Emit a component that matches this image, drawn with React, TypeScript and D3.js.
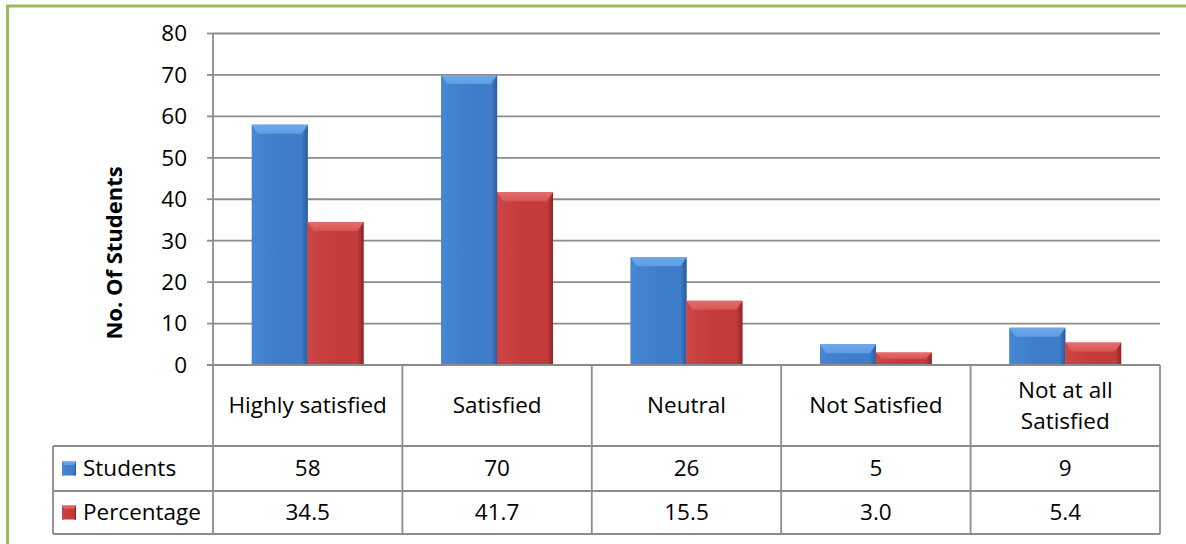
import React from "react";
import * as d3 from "d3";

const categories = ["Highly satisfied", "Satisfied", "Neutral", "Not Satisfied", "Not at all Satisfied"];
const categoryLines = [["Highly satisfied"], ["Satisfied"], ["Neutral"], ["Not Satisfied"], ["Not at all", "Satisfied"]];
const students = [58, 70, 26, 5, 9];
const percentage = [34.5, 41.7, 15.5, 3.0, 5.4];
const percentageLabels = ["34.5", "41.7", "15.5", "3.0", "5.4"];
const yTicks = [0, 10, 20, 30, 40, 50, 60, 70, 80];
const seriesNames = ["Students", "Percentage"];

const W = 1186;
const H = 544;
const FONT = "'Open Sans', Lato, sans-serif";
const FS = 22.5;
const GRID = "#8c8c8c";

const palettes = {
  blue: { main: "#3d7dca", light: "#5f9de2", top: "#6eaaea", dark: "#2a5c9c", left: "#4686d2" },
  red: { main: "#c53b3b", light: "#d95454", top: "#e36e6e", dark: "#8e2727", left: "#cc4444" },
};

function BevelBar({ x, y, w, h, pal, id }) {
  if (h <= 0) return null;
  const b = Math.min(9, h / 2, w / 4);
  const s = Math.min(6, w / 6);
  return (
    <g>
      <rect x={x} y={y} width={w} height={h} fill={`url(#${id}-body)`} />
      <polygon points={`${x},${y} ${x + s},${y + b} ${x + s},${y + h} ${x},${y + h}`} fill={pal.left} />
      <polygon points={`${x + w},${y} ${x + w - s},${y + b} ${x + w - s},${y + h} ${x + w},${y + h}`} fill={`url(#${id}-side)`} />
      <polygon points={`${x},${y} ${x + w},${y} ${x + w - s},${y + b} ${x + s},${y + b}`} fill={`url(#${id}-top)`} />
    </g>
  );
}

function Gradients({ id, pal }) {
  return (
    <>
      <linearGradient id={`${id}-body`} x1="0" x2="1" y1="0" y2="0">
        <stop offset="0" stopColor={pal.left} />
        <stop offset="0.5" stopColor={pal.main} />
        <stop offset="1" stopColor={pal.main} />
      </linearGradient>
      <linearGradient id={`${id}-side`} x1="0" x2="1" y1="0" y2="0">
        <stop offset="0" stopColor={pal.main} />
        <stop offset="1" stopColor={pal.dark} />
      </linearGradient>
      <linearGradient id={`${id}-top`} x1="0" x2="0" y1="0" y2="1">
        <stop offset="0" stopColor={pal.top} />
        <stop offset="1" stopColor={pal.light} />
      </linearGradient>
    </>
  );
}

export default function App() {
  const left = 213;
  const right = 1160;
  const top = 33.5;
  const base = 365;
  const headerBottom = 446;
  const row1Bottom = 491;
  const row2Bottom = 534;
  const legendLeft = 53;

  const y = d3.scaleLinear().domain([0, 80]).range([base, top]);
  const x = d3.scaleBand().domain(categories).range([left, right]).paddingInner(0).paddingOuter(0);
  const bw = x.bandwidth();
  const barW = bw * 0.295;
  const colEdges = categories.map((c) => x(c)).concat([right]);

  return (
    <svg width={W} height={H} style={{ position: "absolute", left: 0, top: 0, background: "#fff" }} fontFamily={FONT}>
      <defs>
        <Gradients id="blue" pal={palettes.blue} />
        <Gradients id="red" pal={palettes.red} />
      </defs>

      {/* frame */}
      <rect x={0} y={0} width={W} height={H} fill="#fff" />
      <line x1={6} x2={W} y1={6} y2={6} stroke="#9bbb59" strokeWidth={3} />
      <line x1={7.5} x2={7.5} y1={5} y2={H} stroke="#9bbb59" strokeWidth={3} />

      {/* gridlines and ticks */}
      {yTicks.map((t) => (
        <g key={t}>
          {t > 0 && <line x1={left} x2={right} y1={y(t)} y2={y(t)} stroke={GRID} strokeWidth={1.8} />}
          <line x1={left - 6} x2={left} y1={y(t)} y2={y(t)} stroke={GRID} strokeWidth={1.8} />
          <text x={187} y={y(t)} dy="0.35em" textAnchor="end" fontSize={FS} fill="#000">
            {t}
          </text>
        </g>
      ))}

      <text
        transform={`translate(122, 253) rotate(-90)`}
        textAnchor="middle"
        fontSize={22}
        fontWeight="bold"
        fill="#000"
      >
        No. Of Students
      </text>

      {/* bars */}
      {categories.map((c, i) => {
        const cx = x(c) + bw / 2;
        return (
          <g key={c}>
            <BevelBar x={cx - barW} y={y(students[i])} w={barW} h={base - y(students[i])} pal={palettes.blue} id="blue" />
            <BevelBar x={cx} y={y(percentage[i])} w={barW} h={base - y(percentage[i])} pal={palettes.red} id="red" />
          </g>
        );
      })}

      {/* data table */}
      <line x1={left} x2={left} y1={top} y2={row2Bottom} stroke={GRID} strokeWidth={1.8} />
      <line x1={left - 6} x2={right} y1={base} y2={base} stroke={GRID} strokeWidth={1.8} />
      {[headerBottom, row1Bottom, row2Bottom].map((yy) => (
        <line key={yy} x1={legendLeft} x2={right} y1={yy} y2={yy} stroke={GRID} strokeWidth={1.8} />
      ))}
      <line x1={legendLeft} x2={legendLeft} y1={headerBottom} y2={row2Bottom} stroke={GRID} strokeWidth={1.8} />
      {colEdges.slice(1).map((xx, i) => (
        <line key={i} x1={xx} x2={xx} y1={base} y2={row2Bottom} stroke={GRID} strokeWidth={1.8} />
      ))}

      {categories.map((c, i) => {
        const cx = x(c) + bw / 2;
        const lines = categoryLines[i];
        const mid = (base + headerBottom) / 2;
        return (
          <g key={c}>
            {lines.map((ln, j) => (
              <text
                key={j}
                x={cx}
                y={mid + (j - (lines.length - 1) / 2) * 31}
                dy="0.35em"
                textAnchor="middle"
                fontSize={FS}
                fill="#000"
              >
                {ln}
              </text>
            ))}
            <text x={cx} y={(headerBottom + row1Bottom) / 2} dy="0.35em" textAnchor="middle" fontSize={FS} fill="#000">
              {students[i]}
            </text>
            <text x={cx} y={(row1Bottom + row2Bottom) / 2} dy="0.35em" textAnchor="middle" fontSize={FS} fill="#000">
              {percentageLabels[i]}
            </text>
          </g>
        );
      })}

      {/* legend keys */}
      {seriesNames.map((s, i) => {
        const cy = i === 0 ? (headerBottom + row1Bottom) / 2 : (row1Bottom + row2Bottom) / 2;
        const pal = i === 0 ? palettes.blue : palettes.red;
        const id = i === 0 ? "blue" : "red";
        return (
          <g key={s}>
            <BevelBar x={62} y={cy - 7} w={14} h={14} pal={pal} id={id} />
            <text x={83} y={cy} dy="0.35em" fontSize={FS} fill="#000">
              {s}
            </text>
          </g>
        );
      })}
    </svg>
  );
}
